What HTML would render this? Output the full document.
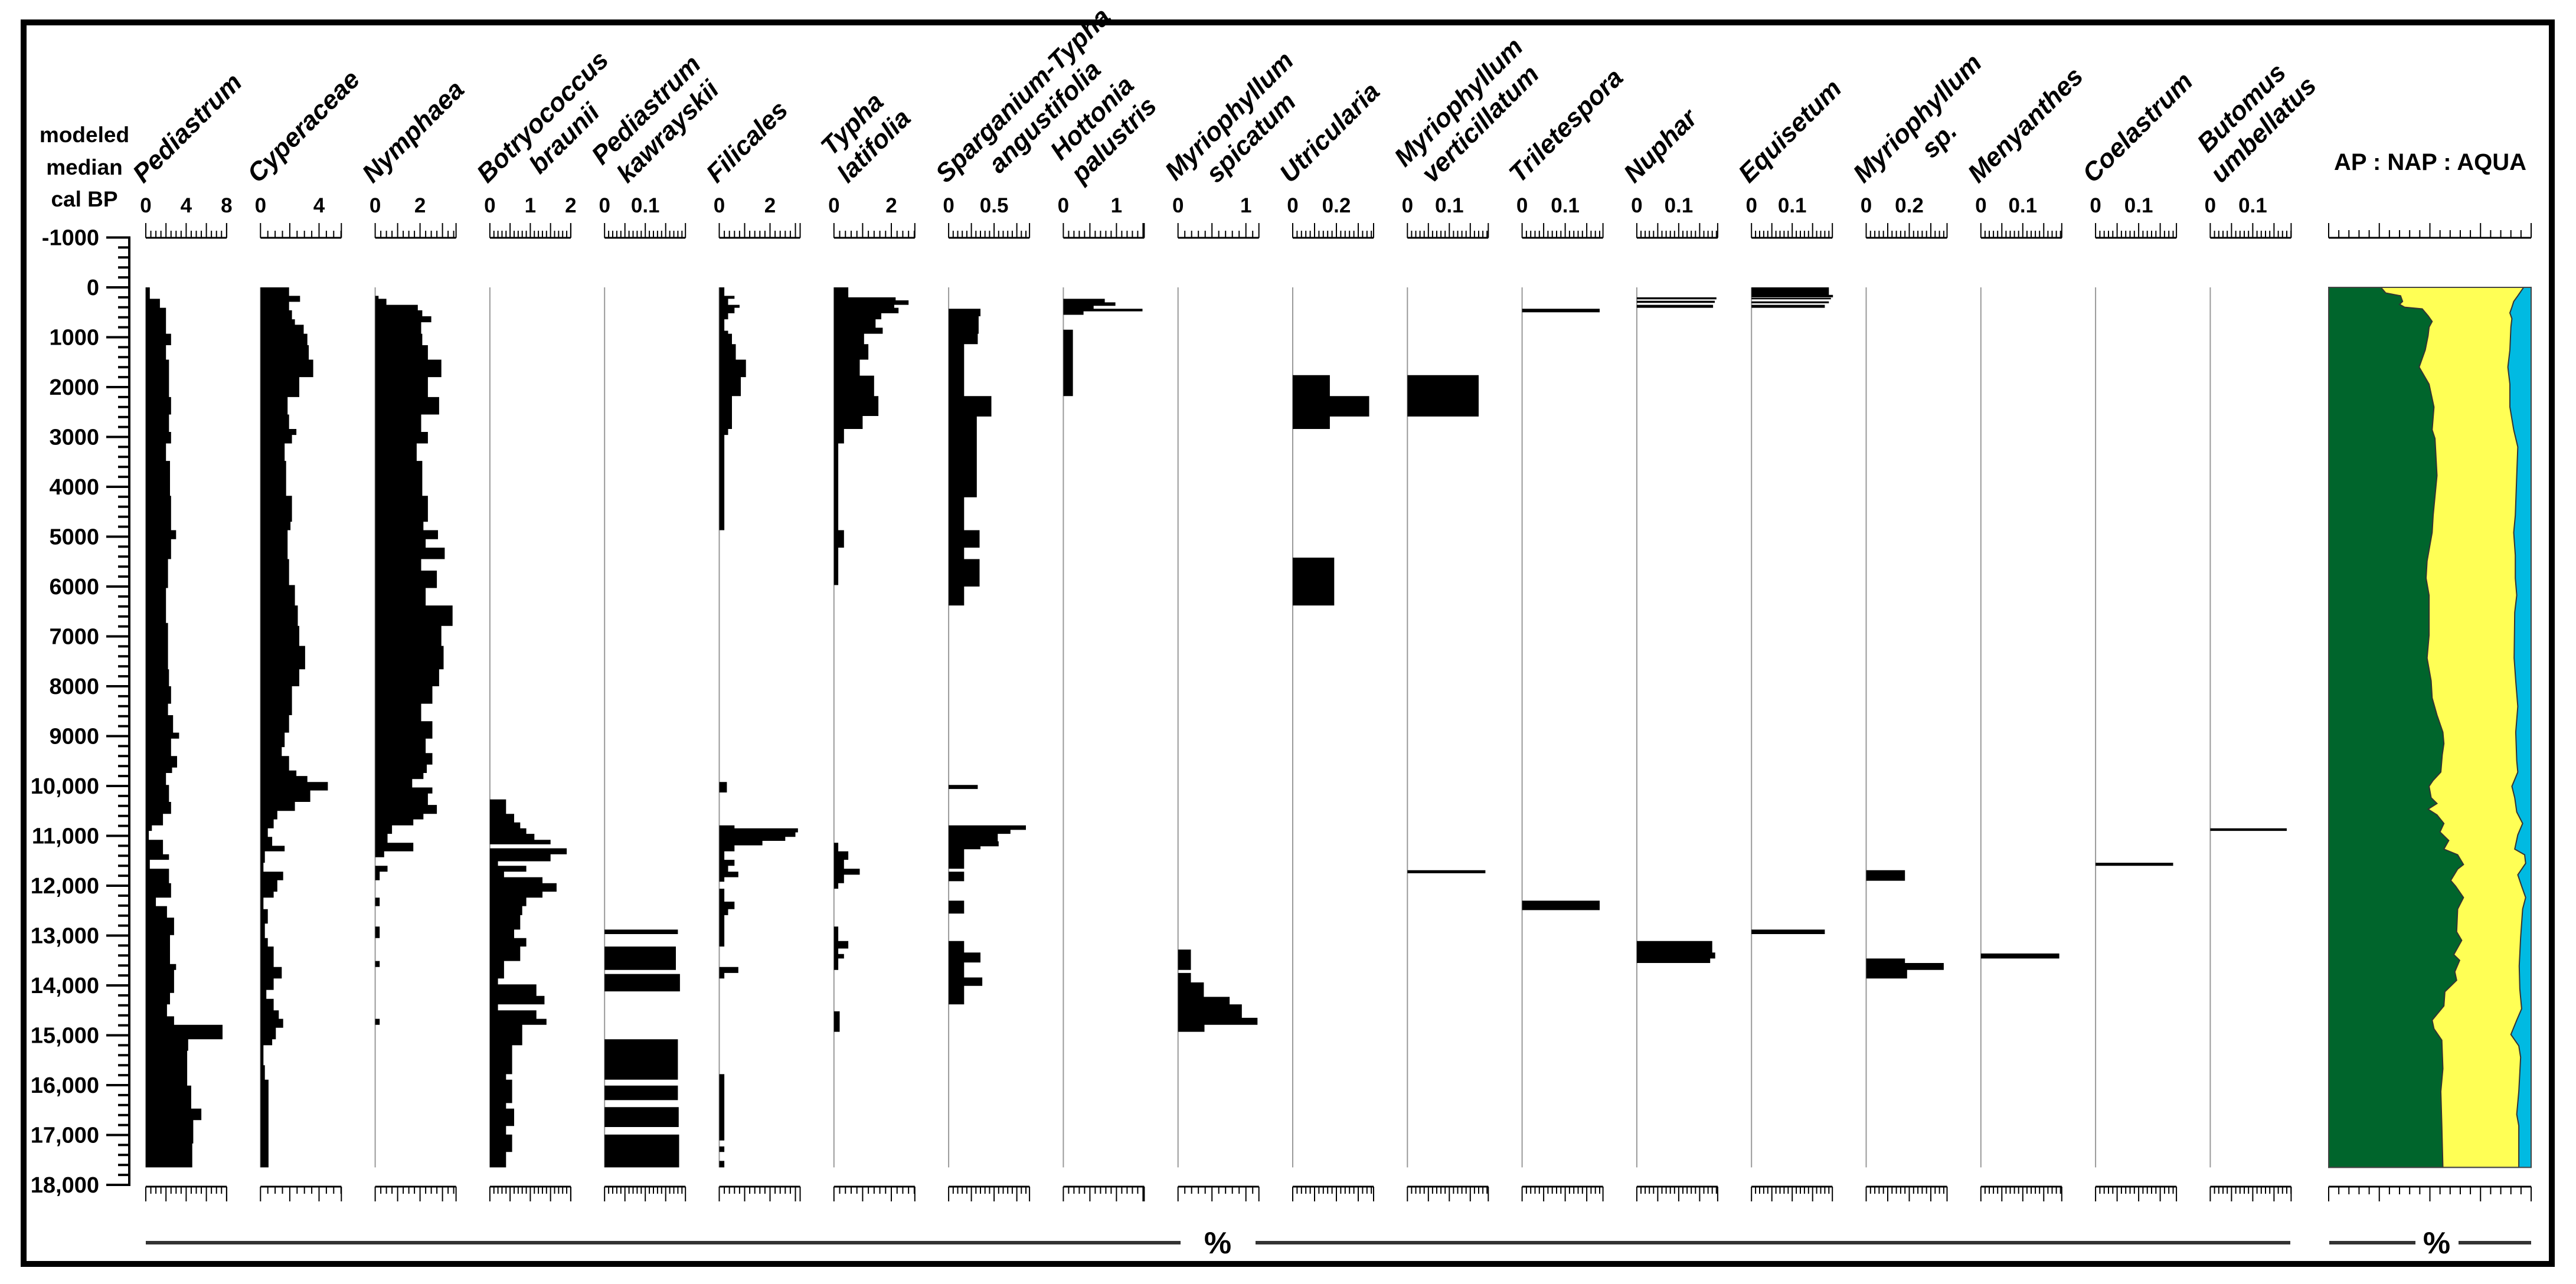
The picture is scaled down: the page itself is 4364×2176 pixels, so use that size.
<!DOCTYPE html>
<html>
<head>
<meta charset="utf-8">
<style>
html,body{margin:0;padding:0;background:#fff;}
svg{display:block;}
</style>
</head>
<body>
<svg id="chart" xmlns="http://www.w3.org/2000/svg" width="4364" height="2176" viewBox="0 0 4364 2176" font-family="'Liberation Sans', sans-serif">
  <rect x="0" y="0" width="4364" height="2176" fill="#ffffff"/>
  <rect x="40" y="38" width="4283" height="2104" fill="none" stroke="#000" stroke-width="10"/>
  <g font-weight="bold" font-size="37" text-anchor="middle" fill="#000">
    <text x="143" y="241">modeled</text>
    <text x="143" y="296">median</text>
    <text x="143" y="350">cal BP</text>
  </g>
  <text x="4117" y="288" font-weight="bold" font-size="40" text-anchor="middle" fill="#000">AP : NAP : AQUA</text>
  <g id="layer"></g>
</svg>
<script>
// ---------------- DATA ----------------
const pediastrumAges = [0,230,410,930,1160,1450,2200,2550,2900,3130,3480,4180,4870,5050,5450,6030,6730,7660,8000,8350,8580,8930,9050,9400,9630,9740,9980,10320,10560,10790,10900,11080,11370,11480,11660,11950,12240,12410,12640,12990,13570,13690,14150,14380,14620,14790,15080,15310,16010,16470,16700,17170];
const pediastrumValues = [0.4,1.4,2.0,2.5,2.0,2.3,2.5,2.3,2.5,2.0,2.4,2.5,3.0,2.5,2.2,2.0,2.2,2.3,2.5,2.2,2.7,3.3,2.5,3.1,2.6,2.0,2.3,2.5,1.7,0.6,0.3,1.7,2.3,0.4,2.3,2.5,1.0,2.1,2.8,2.4,3.0,2.8,2.4,2.1,2.8,7.6,4.2,4.1,4.5,5.5,4.7,4.6];

const cyperaceaeAges = [0,170,290,460,640,750,930,1160,1450,1800,2200,2550,2840,2960,3130,3480,4180,4700,4870,5450,5970,6380,6790,7190,7660,8000,8580,8930,9220,9400,9690,9800,9920,10090,10320,10500,10670,10850,11020,11200,11310,11540,11720,11890,12120,12240,12470,12760,13050,13220,13630,13860,14090,14270,14500,14670,14850,15080,15200,15600,15890];
const cyperaceaeValues = [1.95,2.7,1.95,2.15,2.35,2.95,3.2,3.3,3.6,2.65,1.85,1.95,2.45,2.15,1.65,1.75,2.15,2.05,1.85,1.95,2.35,2.55,2.65,3.05,2.65,2.15,1.95,1.65,1.45,1.95,2.45,3.2,4.6,3.4,2.35,1.15,0.9,0.5,0.8,1.65,0.3,0.2,1.55,1.15,0.9,0.2,0.5,0.3,0.5,0.9,1.45,0.9,0.4,0.9,1.25,1.55,1.05,0.8,0.2,0.3,0.55];

const nymphaeaAges = [0,170,230,350,460,580,700,930,1160,1450,1800,2200,2550,2900,3130,3480,4180,4700,4870,5050,5220,5450,5680,6030,6380,6790,7190,7660,8000,8350,8700,9050,9340,9570,9740,9860,10030,10150,10380,10560,10670,10790,10960,11140,11310,11430,11600,11720,11890,12240,12410,12820,13050,13510,13630,14670,14790];
const nymphaeaValues = [0,0.15,0.5,1.9,2.1,2.5,2.05,2.1,2.35,2.95,2.35,2.85,2.05,2.35,1.85,2.1,2.35,2.15,2.8,2.25,3.1,2.05,2.75,2.25,3.45,2.95,3.05,2.85,2.55,2.05,2.55,2.25,2.55,2.3,2.15,1.65,2.55,2.35,2.75,2.15,1.7,0.75,0.55,1.7,0.4,0,0.55,0.2,0,0.2,0,0.2,0,0.2,0,0.2,0];

const botryococcusAges = [0,10270,10560,10730,10850,10960,11080,11170,11250,11370,11510,11600,11720,11830,11950,12120,12240,12410,12590,12880,13050,13220,13510,13860,13980,14210,14380,14500,14670,14790,15200,15780,15890,16360,16470,16820,16990,17340];
const botryococcusValues = [0,0.4,0.6,0.75,0.9,1.1,1.5,0,1.9,1.5,0.2,0.9,0.35,1.3,1.65,1.3,0.9,0.8,0.75,0.6,0.9,0.75,0.35,0.2,1.15,1.35,0.2,1.15,1.4,0.8,0.55,0.4,0.55,0.4,0.6,0.4,0.55,0.4];

const pediastrumKawAges = [0,12880,12970,13220,13690,13770,14120,15080,15890,16010,16300,16440,16840,16990];
const pediastrumKawValues = [0,0.18,0,0.175,0,0.185,0,0.18,0,0.18,0,0.182,0,0.183];

const filicalesAges = [0,170,230,350,410,520,640,870,930,1140,1450,1800,2180,2840,2960,4870,9920,10130,10790,10850,10930,11020,11100,11190,11310,11480,11600,11720,11830,11920,12060,12320,12470,12590,13220,13630,13750,13860,15780,17110,17230,17340,17520];
const filicalesValues = [0.2,0.6,0.35,0.8,0.6,0.35,0.2,0.35,0.5,0.65,1.05,0.85,0.5,0.35,0.2,0,0.3,0,0.6,3.1,3.0,2.6,1.7,0.6,0.2,0.6,0.35,0.75,0.2,0,0.2,0.6,0.35,0.2,0,0.75,0.2,0,0.2,0,0.2,0,0.2];

const typhaAges = [0,200,260,350,410,520,640,810,930,1140,1450,1770,2180,2580,2840,3130,4870,5220,5970,11140,11310,11480,11660,11780,11950,12060,12820,13110,13260,13370,13460,13690,14520,14930];
const typhaValues = [0.5,2.15,2.6,2.1,2.25,1.65,1.45,1.7,1.05,1.2,0.9,1.4,1.55,1.0,0.35,0.15,0.35,0.15,0,0.15,0.5,0.35,0.9,0.35,0.15,0,0.15,0.5,0.15,0.35,0.15,0,0.2,0];

const sparganiumAges = [0,430,580,930,1140,2180,2590,4210,4870,5220,5450,6000,6380,9980,10060,10790,10880,10960,11110,11210,11270,11660,11720,11910,12300,12560,13110,13340,13540,13840,14010,14380];
const sparganiumValues = [0,0.35,0.33,0.32,0.17,0.47,0.31,0.17,0.34,0.17,0.34,0.17,0,0.32,0,0.85,0.68,0.54,0.55,0.35,0.17,0,0.17,0,0.17,0,0.17,0.35,0.17,0.37,0.17,0];

const hottoniaAges = [0,230,300,370,430,480,550,850,2180];
const hottoniaValues = [0,0.78,0.98,0.57,1.49,0.38,0,0.18,0];

const myrSpicatumAges = [0,13280,13690,13750,13940,14230,14380,14650,14790,14930];
const myrSpicatumValues = [0,0.19,0,0.19,0.38,0.76,0.94,1.17,0.39,0];

const utriculariaAges = [0,1760,2180,2590,2840,5420,6380];
const utriculariaValues = [0,0.17,0.35,0.17,0,0.19,0];

const myrVerticillatumAges = [0,1760,2590,11690,11750];
const myrVerticillatumValues = [0,0.17,0,0.186,0];

const triletesporaAges = [0,430,500,12300,12490];
const triletesporaValues = [0,0.18,0,0.18,0];

const nupharAges = [0,200,240,270,310,350,410,13110,13340,13460,13550];
const nupharValues = [0,0.19,0,0.186,0,0.182,0,0.18,0.187,0.175,0];

const equisetumAges = [0,150,200,210,240,280,320,350,410,12880,12970];
const equisetumValues = [0.19,0.2,0,0.195,0,0.19,0,0.18,0,0.18,0];

const myrSpAges = [0,11690,11900,13460,13550,13690,13860];
const myrSpValues = [0,0.18,0,0.18,0.36,0.19,0];

const menyanthesAges = [0,13360,13460];
const menyanthesValues = [0,0.187,0];

const coelastrumAges = [0,11540,11600];
const coelastrumValues = [0,0.18,0];

const butomusAges = [0,10850,10900];
const butomusValues = [0,0.18,0];

// AP : NAP : AQUA (cumulative percent)
const apAges = [0,112,169,283,341,398,432,569,684,798,970,1256,1599,1942,2400,2857,3029,3773,4573,4917,5489,5832,6175,6976,7434,7891,8234,8577,8921,9150,9378,9722,9893,10007,10236,10351,10465,10580,10751,10923,11094,11266,11380,11575,11666,11895,12010,12238,12467,12925,13096,13382,13497,13725,13897,14126,14411,14697,14869,15098,15670,16128,16814,17650];
const apPercent = [25.8,28.2,35.5,36.5,35.0,37.5,46.2,49.1,51.1,49.6,49.1,47.7,44.7,49.6,52.0,51.1,52.5,53.5,51.6,51.1,48.6,48.1,49.6,49.6,48.6,50.6,51.1,53.5,56.4,56.9,56.1,55.4,51.5,49.6,50.6,53.5,49.1,53.5,56.9,55.0,59.3,56.9,63.7,66.6,63.7,60.3,62.7,66.6,63.7,63.2,65.7,61.8,64.7,62.3,63.2,57.4,56.9,51.1,52.0,55.9,56.4,55.4,55.9,56.4];
const apNapAges = [0,169,283,398,512,627,798,1256,1599,1942,2400,2857,3201,3773,4573,4917,5374,5832,6175,6518,7434,7891,8406,8921,9493,9722,10007,10236,10522,10751,10980,11266,11380,11552,11781,12010,12238,12467,13039,13611,14069,14469,14697,14983,15212,15441,16128,16585,16814,17650];
const apNapPercent = [96.3,93.4,91.4,90.5,89.5,90.5,90.0,89.5,88.5,89.5,89.5,91.4,93.4,92.9,92.2,91.4,92.2,92.2,92.9,91.9,91.6,92.4,93.4,92.4,92.9,93.4,90.5,91.9,92.9,95.8,93.4,91.9,96.8,97.3,93.4,95.3,97.3,95.8,94.8,94.1,94.4,95.3,92.9,90.0,93.9,94.8,93.9,92.9,93.9,93.9];

// axis tick values
const yTickMajors = [-1000,0,1000,2000,3000,4000,5000,6000,7000,8000,9000,10000,11000,12000,13000,14000,15000,16000,17000,18000];
const yTickLabels = ["-1000","0","1000","2000","3000","4000","5000","6000","7000","8000","9000","10,000","11,000","12,000","13,000","14,000","15,000","16,000","17,000","18,000"];
const ratioTickLabels = [0,25,50,75,100];

const taxonNames = ["pediastrum","cyperaceae","nymphaea","botryococcus-braunii","pediastrum-kawrayskii","filicales","typha-latifolia","sparganium-typha-angustifolia","hottonia-palustris","myriophyllum-spicatum","utricularia","myriophyllum-verticillatum","triletespora","nuphar","equisetum","myriophyllum-sp","menyanthes","coelastrum","butomus-umbellatus"];
const taxonLabels = [["Pediastrum"],["Cyperaceae"],["Nymphaea"],["Botryococcus","braunii"],["Pediastrum","kawrayskii"],["Filicales"],["Typha","latifolia"],["Sparganium-Typha","angustifolia"],["Hottonia","palustris"],["Myriophyllum","spicatum"],["Utricularia"],["Myriophyllum","verticillatum"],["Triletespora"],["Nuphar"],["Equisetum"],["Myriophyllum","sp."],["Menyanthes"],["Coelastrum"],["Butomus","umbellatus"]];
const taxonAges = [pediastrumAges,cyperaceaeAges,nymphaeaAges,botryococcusAges,pediastrumKawAges,filicalesAges,typhaAges,sparganiumAges,hottoniaAges,myrSpicatumAges,utriculariaAges,myrVerticillatumAges,triletesporaAges,nupharAges,equisetumAges,myrSpAges,menyanthesAges,coelastrumAges,butomusAges];
const taxonValues = [pediastrumValues,cyperaceaeValues,nymphaeaValues,botryococcusValues,pediastrumKawValues,filicalesValues,typhaValues,sparganiumValues,hottoniaValues,myrSpicatumValues,utriculariaValues,myrVerticillatumValues,triletesporaValues,nupharValues,equisetumValues,myrSpValues,menyanthesValues,coelastrumValues,butomusValues];
const scaleTickLabels = [["0","4","8"],["0","4"],["0","2"],["0","1","2"],["0","0.1"],["0","2"],["0","2"],["0","0.5"],["0","1"],["0","1"],["0","0.2"],["0","0.1"],["0","0.1"],["0","0.1"],["0","0.1"],["0","0.2"],["0","0.1"],["0","0.1"],["0","0.1"]];

// ---------------- LAYOUT (styling, not data) ----------------
const NS = "http://www.w3.org/2000/svg";
const DATA_END = 17650;
const COL_LEFT = 247, COL_STEP = 194.3, RULER_LEN = 137;
const colPxPerUnit = [17.1,24.8,38,68.5,690,43,48.6,154,90,115,370,710,730,710,690,365,710,730,720];
const colMinorStep = [0.5,0.5,0.25,0.1,0.01,0.2,0.2,0.05,0.1,0.1,0.02,0.01,0.01,0.01,0.01,0.02,0.01,0.01,0.01];
const colMajorEvery = [4,4,4,5,5,5,5,5,5,5,5,5,5,5,5,5,5,5,5];
const RATIO_L = 3945, RATIO_W = 343;

function y(age){ return 487 + age * 0.0845; }
function colX(i){ return COL_LEFT + i * COL_STEP; }
function mk(tag, parent){ const e = document.createElementNS(NS, tag); parent.appendChild(e); return e; }

const layer = document.getElementById('layer');

// ---------- Y axis ----------
const yAxis = mk('g', layer);


const yLine = mk('line', yAxis);


yLine.setAttribute('x1', 219); yLine.setAttribute('x2', 219);
yLine.setAttribute('y1', y(-1000) - 2); yLine.setAttribute('y2', y(18000) + 2);
yLine.setAttribute('stroke', '#000'); yLine.setAttribute('stroke-width', 4);
for (let a = -1000; a <= 18000; a += 200) {
  const major = (a % 1000 === 0);
  const t = mk('line', yAxis);
  
  
  t.setAttribute('x1', major ? 180 : 200); t.setAttribute('x2', 219);
  t.setAttribute('y1', y(a)); t.setAttribute('y2', y(a));
  t.setAttribute('stroke', '#000'); t.setAttribute('stroke-width', 4);
}
yTickMajors.forEach((a, k) => {
  const lb = mk('text', yAxis);
  
  
  lb.setAttribute('x', 168); lb.setAttribute('y', y(a) + 13);
  lb.setAttribute('text-anchor', 'end'); lb.setAttribute('font-weight', 'bold');
  lb.setAttribute('font-size', 38);
  lb.textContent = yTickLabels[k];
});

// ---------- Taxon columns ----------
function drawRuler(g, x0, i, baseY, dirSign) {
  const ppu = colPxPerUnit[i], step = colMinorStep[i], every = colMajorEvery[i];
  const base = mk('line', g);
  
  
  base.setAttribute('x1', x0); base.setAttribute('x2', x0 + RULER_LEN);
  base.setAttribute('y1', baseY); base.setAttribute('y2', baseY);
  base.setAttribute('stroke', '#000'); base.setAttribute('stroke-width', 3);
  const n = Math.floor(RULER_LEN / (step * ppu) + 1e-6);
  for (let k = 0; k <= n; k++) {
    const px = x0 + k * step * ppu;
    const tall = (k % every === 0);
    const tk = mk('line', g);
    
    
    tk.setAttribute('x1', px); tk.setAttribute('x2', px);
    tk.setAttribute('y1', baseY); tk.setAttribute('y2', baseY - dirSign * (tall ? 25 : 12));
    tk.setAttribute('stroke', '#000'); tk.setAttribute('stroke-width', 2);
  }
  const endTk = mk('line', g);
  
  
  endTk.setAttribute('x1', x0 + RULER_LEN); endTk.setAttribute('x2', x0 + RULER_LEN);
  endTk.setAttribute('y1', baseY); endTk.setAttribute('y2', baseY - dirSign * 25);
  endTk.setAttribute('stroke', '#000'); endTk.setAttribute('stroke-width', 2);
}

for (let i = 0; i < taxonNames.length; i++) {
  const x0 = colX(i);
  const ppu = colPxPerUnit[i];
  const g = mk('g', layer);
  
  

  // label
  const lg = mk('g', g);
  
  
  const lines = taxonLabels[i];
  const L = 52;
  const tEls = lines.map((s, k) => {
    const t = mk('text', lg);
    
    
    t.setAttribute('x', 0); t.setAttribute('y', k * L);
    t.setAttribute('text-anchor', 'middle');
    t.setAttribute('font-weight', 'bold'); t.setAttribute('font-style', 'italic');
    t.setAttribute('font-size', 44);
    t.textContent = s;
    return t;
  });
  const c = Math.SQRT1_2;
  const w1 = tEls[0].getComputedTextLength();
  const w2 = tEls.length > 1 ? tEls[1].getComputedTextLength() : 0;
  const gx = x0 - 4 + c * w1 / 2;
  const low = tEls.length > 1 ? Math.max(c * w1 / 2, c * L + c * w2 / 2) : c * w1 / 2;
  const gy = 312 - low;
  lg.setAttribute('transform', 'translate(' + gx + ',' + gy + ') rotate(-45)');

  // scale labels
  scaleTickLabels[i].forEach(s => {
    const t = mk('text', g);
    
    
    t.setAttribute('x', x0 + parseFloat(s) * ppu); t.setAttribute('y', 360);
    t.setAttribute('text-anchor', 'middle'); t.setAttribute('font-weight', 'bold');
    t.setAttribute('font-size', 35);
    t.textContent = s;
  });

  // rulers
  const topR = mk('g', g);
  
  
  drawRuler(topR, x0, i, 403, 1);
  const botR = mk('g', g);
  
  
  drawRuler(botR, x0, i, 2011, -1);

  // baseline
  const bl = mk('line', g);
  
  
  bl.setAttribute('x1', x0); bl.setAttribute('x2', x0);
  bl.setAttribute('y1', y(0)); bl.setAttribute('y2', y(DATA_END));
  bl.setAttribute('stroke', '#999'); bl.setAttribute('stroke-width', 2);

  // silhouette
  const ages = taxonAges[i], vals = taxonValues[i];
  const n = Math.min(ages.length, vals.length);
  let d = 'M' + x0 + ',' + y(ages[0]);
  for (let k = 0; k < n; k++) {
    const a1 = (k + 1 < n) ? ages[k + 1] : DATA_END;
    d += ' H' + (x0 + vals[k] * ppu).toFixed(1) + ' V' + y(a1).toFixed(1);
  }
  d += ' H' + x0 + ' Z';
  const p = mk('path', g);
  
  
  p.setAttribute('d', d);
  p.setAttribute('fill', '#000');
}

// ---------- Ratio panel ----------
function rx(pct){ return RATIO_L + pct / 100 * RATIO_W; }
const rp = mk('g', layer);


const aqua = mk('rect', rp);


aqua.setAttribute('x', RATIO_L); aqua.setAttribute('y', y(0));
aqua.setAttribute('width', RATIO_W); aqua.setAttribute('height', y(DATA_END) - y(0));
aqua.setAttribute('fill', '#00bae2');
function areaPath(ages, pcts){
  let d = 'M' + RATIO_L + ',' + y(ages[0]);
  const n = Math.min(ages.length, pcts.length);
  for (let k = 0; k < n; k++) d += ' L' + rx(pcts[k]).toFixed(1) + ',' + y(ages[k]).toFixed(1);
  d += ' L' + RATIO_L + ',' + y(ages[n - 1]) + ' Z';
  return d;
}
const nap = mk('path', rp);


nap.setAttribute('d', areaPath(apNapAges, apNapPercent));
nap.setAttribute('fill', '#ffff55'); nap.setAttribute('stroke', '#333'); nap.setAttribute('stroke-width', 2);
const ap = mk('path', rp);


ap.setAttribute('d', areaPath(apAges, apPercent));
ap.setAttribute('fill', '#00652c'); ap.setAttribute('stroke', '#333'); ap.setAttribute('stroke-width', 2);
const rb = mk('rect', rp);


rb.setAttribute('x', RATIO_L); rb.setAttribute('y', y(0));
rb.setAttribute('width', RATIO_W); rb.setAttribute('height', y(DATA_END) - y(0));
rb.setAttribute('fill', 'none'); rb.setAttribute('stroke', '#444'); rb.setAttribute('stroke-width', 2);

function ratioRuler(baseY, dirSign, name){
  const g = mk('g', rp);
  
  
  const b = mk('line', g);
  
  
  b.setAttribute('x1', rx(0)); b.setAttribute('x2', rx(100));
  b.setAttribute('y1', baseY); b.setAttribute('y2', baseY);
  b.setAttribute('stroke', '#000'); b.setAttribute('stroke-width', 3);
  for (let v = 0; v <= 100; v += 5) {
    const tall = ratioTickLabels.indexOf(v) >= 0;
    const t = mk('line', g);
    
    
    t.setAttribute('x1', rx(v)); t.setAttribute('x2', rx(v));
    t.setAttribute('y1', baseY); t.setAttribute('y2', baseY - dirSign * (tall ? 25 : 13));
    t.setAttribute('stroke', '#000'); t.setAttribute('stroke-width', 2);
  }
}
ratioRuler(403, 1, 'ratio-top-ruler');
ratioRuler(2011, -1, 'ratio-bottom-ruler');

// ---------- Percent unit lines ----------
function unitLine(x1, x2, name){
  const l = mk('line', layer);
  
  
  l.setAttribute('x1', x1); l.setAttribute('x2', x2);
  l.setAttribute('y1', 2106); l.setAttribute('y2', 2106);
  l.setAttribute('stroke', '#333'); l.setAttribute('stroke-width', 6);
}
unitLine(247, 2000, 'percent-line-left');
unitLine(2127, 3880, 'percent-line-right');
unitLine(3946, 4092, 'ratio-percent-line-left');
unitLine(4165, 4288, 'ratio-percent-line-right');
const pct1 = mk('text', layer);


pct1.setAttribute('x', 2063); pct1.setAttribute('y', 2124);
pct1.setAttribute('text-anchor', 'middle'); pct1.setAttribute('font-weight', 'bold'); pct1.setAttribute('font-size', 52);
pct1.textContent = '%';
const pct2 = mk('text', layer);


pct2.setAttribute('x', 4128); pct2.setAttribute('y', 2124);
pct2.setAttribute('text-anchor', 'middle'); pct2.setAttribute('font-weight', 'bold'); pct2.setAttribute('font-size', 52);
pct2.textContent = '%';
</script>
</body>
</html>
